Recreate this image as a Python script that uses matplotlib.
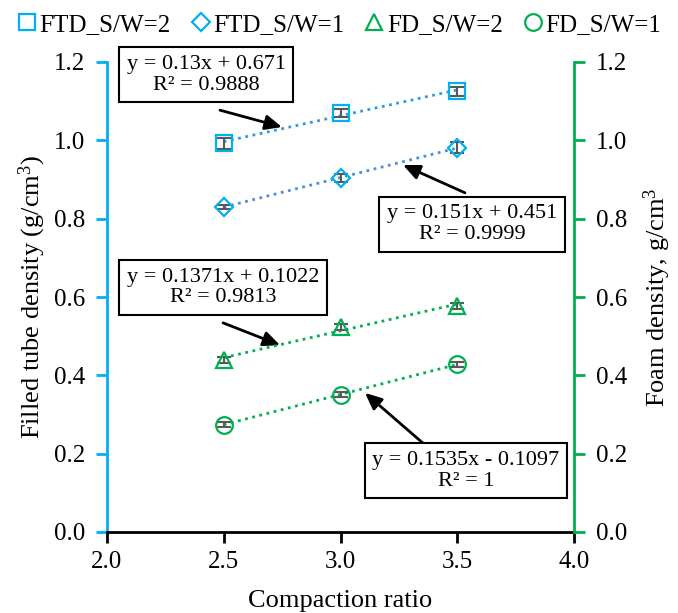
import matplotlib.pyplot as plt
import numpy as np

plt.rcParams['font.family'] = ['Liberation Serif', 'DejaVu Serif']
plt.rcParams['mathtext.default'] = 'regular'

ratio = [2.5, 3.0, 3.5]
ftd_sw2 = [0.993, 1.070, 1.125]
ftd_sw1 = [0.830, 0.904, 0.981]
fd_sw2 = [0.440, 0.524, 0.577]
fd_sw1 = [0.274, 0.351, 0.428]
err_ftd_sw2 = [0.014, 0.010, 0.012]
err_ftd_sw1 = [0.006, 0.010, 0.014]
err_fd_sw2 = [0.008, 0.008, 0.008]
err_fd_sw1 = [0.006, 0.006, 0.006]

labels = ['FTD_S/W=2', 'FTD_S/W=1', 'FD_S/W=2', 'FD_S/W=1']
fits = ['y = 0.13x + 0.671\nR² = 0.9888',
        'y = 0.151x + 0.451\nR² = 0.9999',
        'y = 0.1371x + 0.1022\nR² = 0.9813',
        'y = 0.1535x - 0.1097\nR² = 1']

blue = '#00B0F0'
green = '#00B050'

fig = plt.figure(figsize=(6.78, 6.13), dpi=100)
ax = fig.add_axes([107 / 678, 1 - 532 / 613, 467 / 678, 470 / 613])
ax2 = ax.twinx()

series = [
    (ax, ftd_sw2, err_ftd_sw2, 's', blue, '#2E9BE0', 11),
    (ax, ftd_sw1, err_ftd_sw1, 'D', blue, '#4A90D9', 9),
    (ax2, fd_sw2, err_fd_sw2, '^', green, green, 12),
    (ax2, fd_sw1, err_fd_sw1, 'o', green, green, 12),
]
handles = []
x = np.array(ratio)
for (a, y, e, m, c, lc, ms), lab in zip(series, labels):
    k, b = np.polyfit(x, y, 1)
    a.plot(x, k * x + b, ls=':', lw=2, color=lc, zorder=2)
    a.errorbar(x, y, yerr=e, fmt='none', ecolor='#595959', elinewidth=1.5,
               capsize=5, capthick=1.5, zorder=3)
    h, = a.plot(x, y, ls='none', marker=m, ms=ms, mfc='none', mec=c,
                mew=1.6, zorder=4, label=lab)
    handles.append(h)

for a in (ax, ax2):
    a.set_xlim(2.0, 4.0)
    a.set_ylim(0, 1.2)
    a.set_yticks(np.arange(0, 1.21, 0.2))
    a.set_yticklabels([f'{v:.1f}' for v in np.arange(0, 1.21, 0.2)])
    a.spines['top'].set_visible(False)
    a.tick_params(labelsize=18, width=2, length=8, direction='out')

ax.set_xticks([2.0, 2.5, 3.0, 3.5, 4.0])
ax.set_xticklabels(['2.0', '2.5', '3.0', '3.5', '4.0'])
ax.spines['left'].set_color(blue)
ax.spines['left'].set_linewidth(2)
ax.spines['bottom'].set_linewidth(2)
ax.spines['right'].set_visible(False)
ax.tick_params(axis='y', color=blue, pad=8)
ax.tick_params(axis='x', pad=6)
ax2.spines['right'].set_color(green)
ax2.spines['right'].set_linewidth(2)
ax2.spines['left'].set_visible(False)
ax2.spines['bottom'].set_visible(False)
ax2.tick_params(axis='y', color=green, pad=8)

ax.set_xlabel('Compaction ratio', fontsize=19, labelpad=12)
ax.set_ylabel('Filled tube density (g/cm$^3$)', fontsize=19, labelpad=4)
ax2.set_ylabel('Foam density, g/cm$^3$', fontsize=19, labelpad=10)

box = dict(boxstyle='square,pad=0.35', fc='white', ec='black', lw=1.5)
arrow = dict(arrowstyle='-|>,head_length=1.0,head_width=0.45', color='black',
             lw=2, shrinkA=0, shrinkB=0)
# text, arrow tip, box centre, arrow start
ann = [
    (fits[0], (2.749, 1.034), (2.424, 1.167), (2.484, 1.077)),
    (fits[1], (3.268, 0.937), (3.563, 0.786), (3.533, 0.866)),
    (fits[2], (2.741, 0.477), (2.497, 0.625), (2.497, 0.534)),
    (fits[3], (3.105, 0.355), (3.537, 0.156), (3.353, 0.227)),
]
for text, tip, pos, start in ann:
    ax.annotate('', xy=tip, xytext=start, arrowprops=arrow, zorder=5)
    ax.text(pos[0], pos[1], text, fontsize=16, ha='center', va='center',
            linespacing=1.1, bbox=box, zorder=6)

fig.legend(handles=handles, loc='upper center', bbox_to_anchor=(0.5, 1.015),
           ncol=4, frameon=False, fontsize=18, handlelength=0.8,
           handletextpad=0.1, columnspacing=0.8, markerscale=1.0)

fig.savefig('out.png', dpi=100)
